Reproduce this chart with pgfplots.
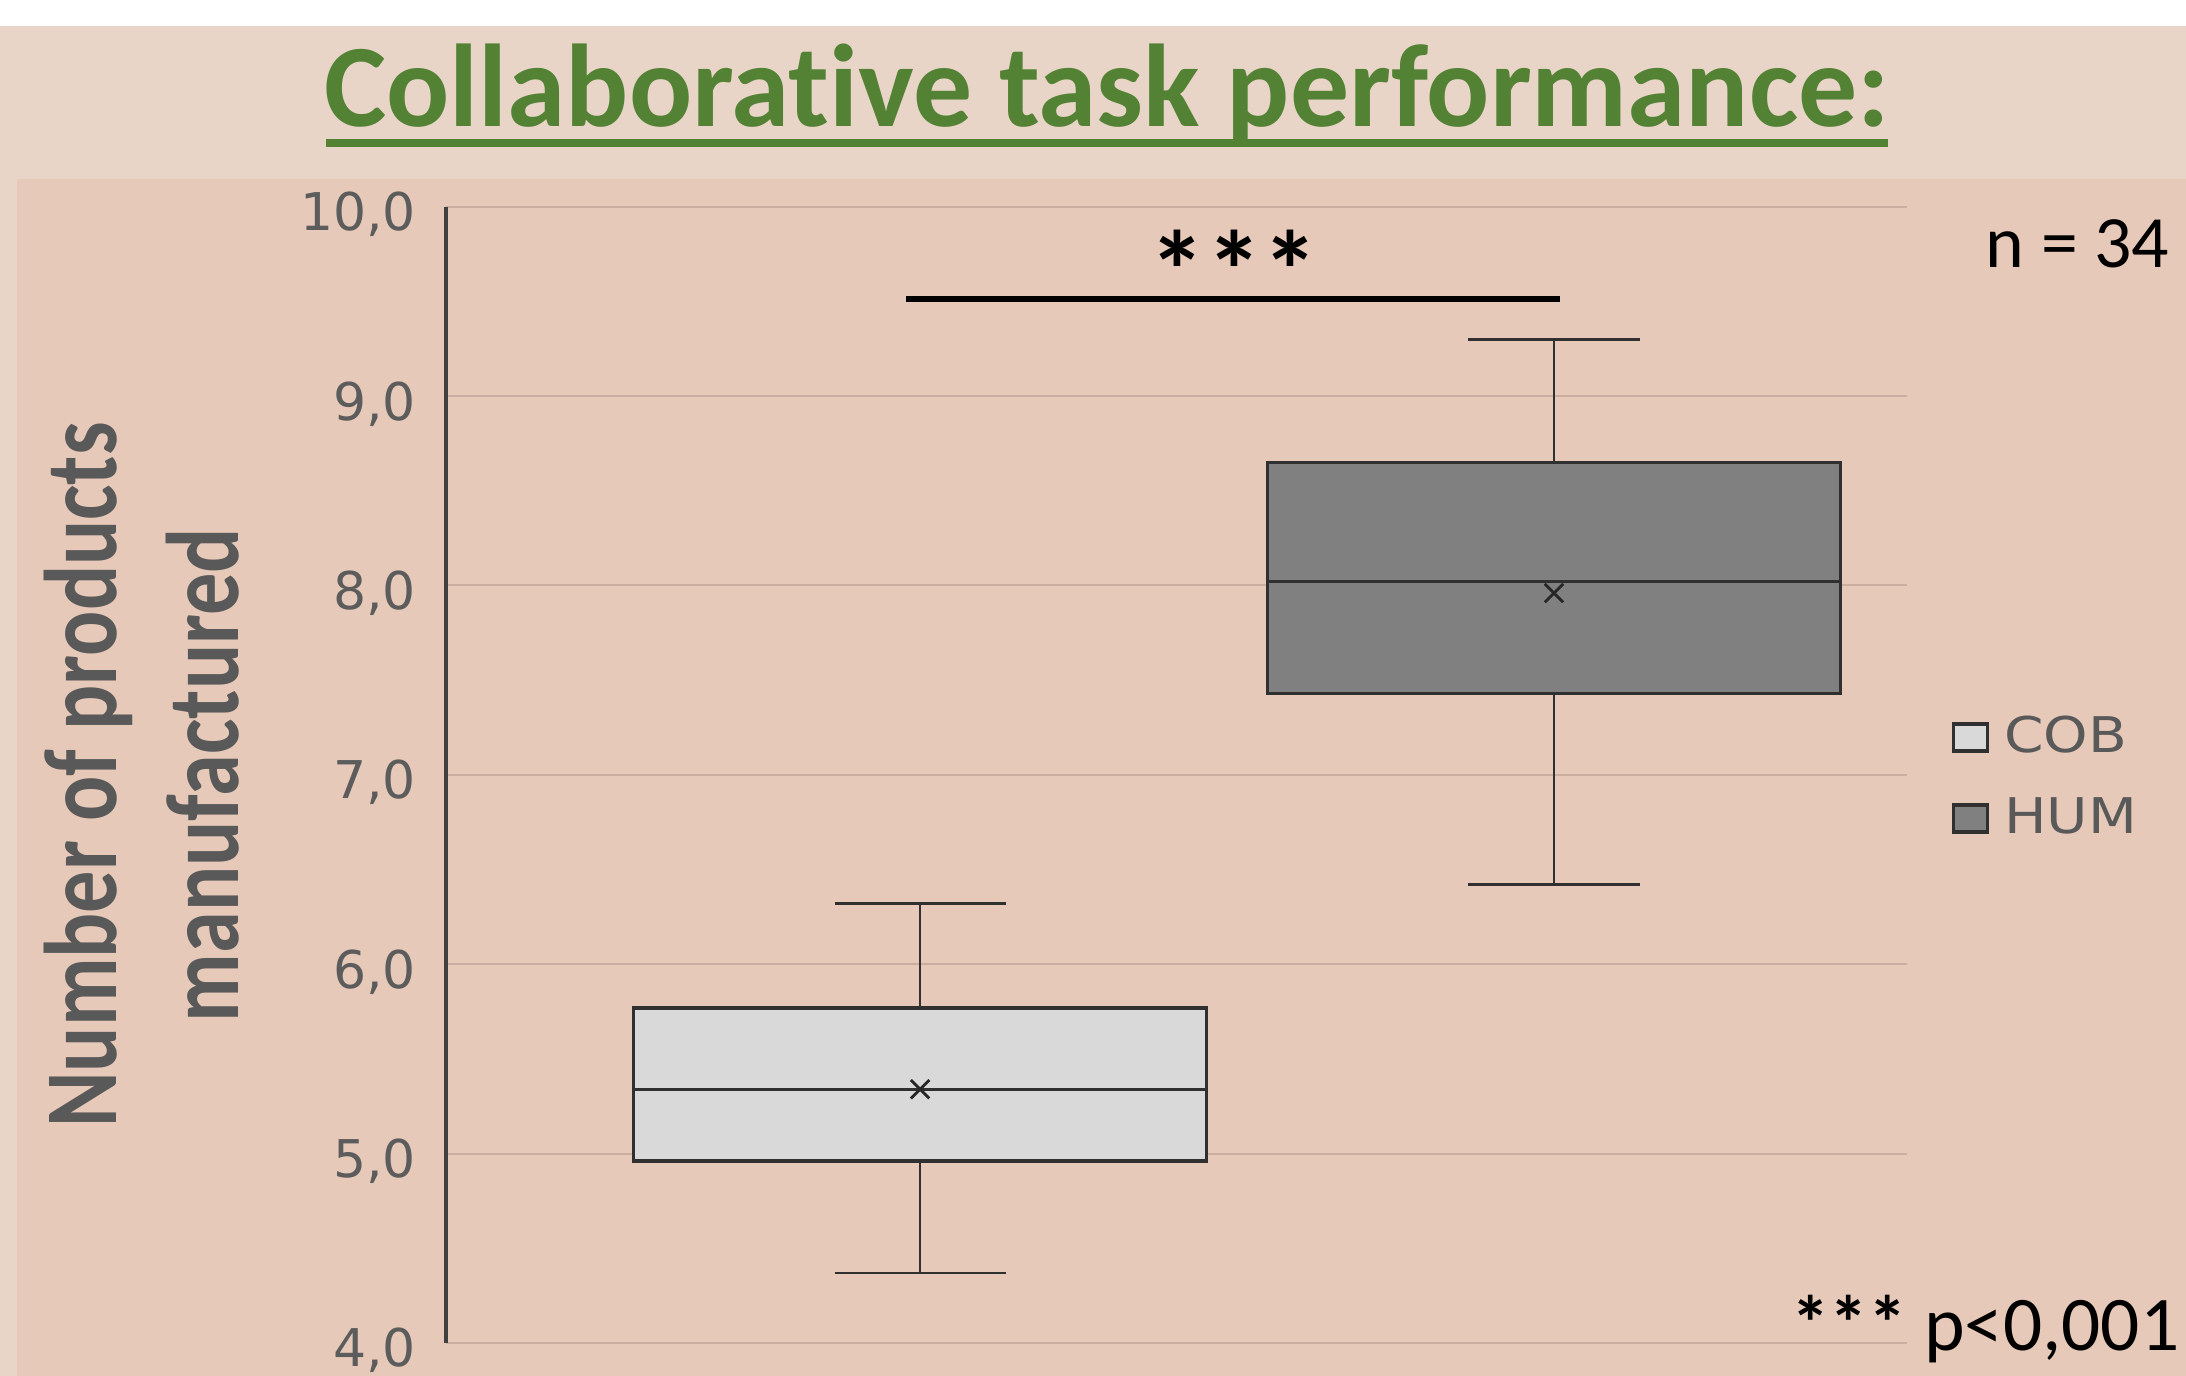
\documentclass[border=0pt]{standalone}
\usepackage{fontspec}
\setmainfont{Carlito}[Ligatures=NoCommon]
\newfontfamily\dejavu{DejaVu Sans}
\usepackage{pgfplots}
\pgfplotsset{compat=1.18}
\usepgfplotslibrary{statistics}
\definecolor{bgtop}{HTML}{E8D5C8}
\definecolor{bgchart}{HTML}{E6C9B8}
\definecolor{titlegreen}{HTML}{548235}
\definecolor{labgray}{HTML}{595959}
\definecolor{tickgray}{HTML}{5C5C5C}
\definecolor{gridc}{HTML}{C9AF9F}
\definecolor{boxc}{HTML}{303030}
\definecolor{cobfill}{HTML}{D9D9D9}
\definecolor{humfill}{HTML}{808080}
\begin{document}
\begin{tikzpicture}
\begin{scope}[x=0.1mm,y=-0.1mm]
\useasboundingbox (0,0) rectangle (2186,1376);
\fill[white] (0,0) rectangle (2186,25.7);
\fill[bgtop] (0,25.7) rectangle (2186,1376);
\fill[bgchart] (16.7,179) rectangle (2186,1376);
% title
\node[anchor=base, inner sep=0pt, text=titlegreen, font=\fontsize{33.5}{40}\selectfont\bfseries] at (1107,126.7) {Collaborative task performance:};
\fill[titlegreen] (326,139.3) rectangle (1888,146.7);
% y label
\node[anchor=base, inner sep=0pt, rotate=90, text=labgray, font=\fontsize{24}{28}\selectfont\bfseries] at (116.7,775) {\scalebox{1}[1.225]{Number of products}};
\node[anchor=base, inner sep=0pt, rotate=90, text=labgray, font=\fontsize{24}{28}\selectfont\bfseries] at (238,775) {\scalebox{1}[1.225]{manufactured}};
\end{scope}
\begin{axis}[
  at={(44.6mm,-134.3mm)}, anchor=south west, scale only axis,
  width=146.1mm, height=113.63mm,
  xmin=0.252, xmax=2.557, ymin=4, ymax=10,
  axis x line=none,
  axis y line*=left,
  y axis line style={line width=1pt, draw=black!75},
  ytick={4,5,...,10},
  major tick length=0pt,
  ymajorgrids,
  grid style={line width=0.57pt, draw=gridc},
  yticklabel style={/pgf/number format/.cd, fixed, fixed zerofill, precision=1, use comma, assume math mode=true, /tikz/.cd,
    font=\dejavu\fontsize{14.8}{17}\selectfont, text=tickgray, anchor=base east, inner sep=0pt, xshift=-2.93mm, yshift=-2.4mm},
  clip=false,
  boxplot/draw direction=y,
  boxplot/every whisker/.style={line width=0.75pt, draw=boxc},
  boxplot/every median/.style={line width=0.9pt, draw=boxc},
  legend image code/.code={\draw[#1] (0mm,-1.35mm) rectangle (3.4mm,1.35mm);},
  legend cell align=left,
  legend style={at={(1.0300,0.552)}, anchor=north west, draw=none, fill=none, inner sep=0pt,
    font=\dejavu\fontsize{14}{16}\selectfont, text=labgray, row sep=3.96mm, column sep=1.5mm,
    nodes={inner sep=0pt}},
]
\addplot[draw=boxc, fill=cobfill, line width=1pt, mark=none,
  boxplot prepared={draw position=1, lower whisker=4.37, lower quartile=4.96, median=5.34,
    upper quartile=5.77, upper whisker=6.32, box extend=0.904, whisker extend=0.27}] coordinates {};
\addplot[draw=boxc, fill=humfill, line width=1pt, mark=none,
  boxplot prepared={draw position=2, lower whisker=6.42, lower quartile=7.43, median=8.02,
    upper quartile=8.65, upper whisker=9.30, box extend=0.904, whisker extend=0.27}] coordinates {};
\legend{\scalebox{1.15}[1]{COB},\scalebox{1.15}[1]{HUM}}
% means
\addplot[forget plot, only marks, mark=x, mark size=3.7pt, mark options={line width=0.8pt, draw=black!85}] coordinates {(1,5.34) (2,7.96)};
% significance bar
\addplot[forget plot, black, line width=1.7pt] coordinates {(0.978,9.515) (2.009,9.515)};
\end{axis}
\begin{scope}[x=0.1mm,y=-0.1mm]
\node[anchor=base, inner sep=0pt, font=\fontsize{32}{36}\selectfont\bfseries] at (1234,310) {***};
\node[anchor=base east, inner sep=0pt, font=\fontsize{21}{25}\selectfont] at (2170,268) {n = 34};
\node[anchor=base east, inner sep=0pt, font=\fontsize{22}{26}\selectfont] at (2180,1350) {{\bfseries ***} p<0,001};
\end{scope}
\end{tikzpicture}
\end{document}
